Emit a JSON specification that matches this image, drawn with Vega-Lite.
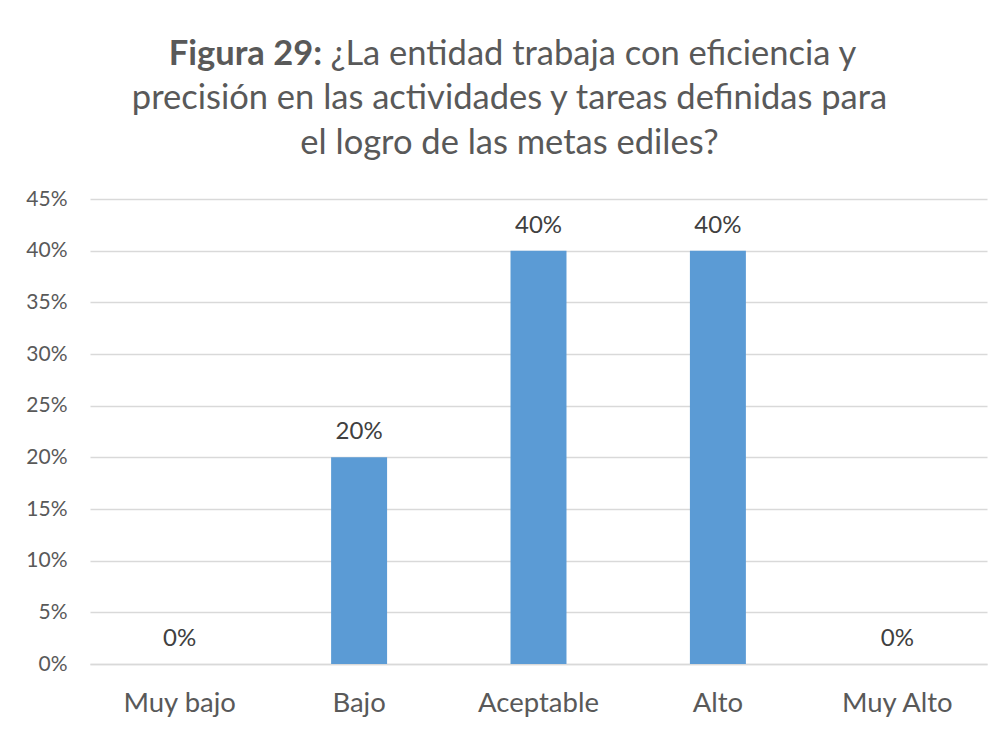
{
  "$schema": "https://vega.github.io/schema/vega-lite/v6.json",
  "width": 897,
  "height": 465,
  "autosize": {"type": "none"},
  "padding": {"left": 90, "top": 199, "right": 20, "bottom": 67},
  "background": "white",
  "config": {"view": {"stroke": null}},
  "title": {
    "text": "Figura 29:\u00a0\u00a0\u00a0\u00a0\u00a0\u00a0\u00a0\u00a0\u00a0\u00a0\u00a0\u00a0\u00a0\u00a0\u00a0\u00a0\u00a0\u00a0\u00a0\u00a0\u00a0\u00a0\u00a0\u00a0\u00a0\u00a0\u00a0\u00a0\u00a0\u00a0\u00a0\u00a0\u00a0\u00a0\u00a0\u00a0\u00a0\u00a0\u00a0\u00a0\u00a0\u00a0\u00a0\u00a0\u00a0\u00a0\u00a0\u00a0\u00a0\u00a0\u00a0\u00a0\u00a0\u00a0\u00a0\u00a0\u00a0\u00a0\u00a0\u00a0\u00a0\u00a0\u00a0\u200b",
    "subtitle": ["\u200b\u00a0\u00a0\u00a0\u00a0\u00a0\u00a0\u00a0\u00a0\u00a0\u00a0\u00a0\u00a0\u00a0\u00a0\u00a0\u00a0\u00a0\u00a0\u00a0¿La entidad trabaja con eficiencia y", "precisión en las actividades y tareas definidas para", "el logro de las metas ediles?"],
    "anchor": "middle",
    "frame": "group",
    "dx": -29,
    "font": "Lato",
    "fontSize": 34.5,
    "fontWeight": "bold",
    "color": "#595959",
    "subtitleFont": "Lato",
    "subtitleFontSize": 34.5,
    "subtitleFontWeight": "normal",
    "subtitleColor": "#595959",
    "subtitleLineHeight": 44.5,
    "subtitlePadding": -34.5,
    "offset": 27
  },
  "data": {
    "values": [
      {"nivel": "Muy bajo", "pct": 0},
      {"nivel": "Bajo", "pct": 0.2},
      {"nivel": "Aceptable", "pct": 0.4},
      {"nivel": "Alto", "pct": 0.4},
      {"nivel": "Muy Alto", "pct": 0}
    ]
  },
  "encoding": {
    "x": {
      "field": "nivel",
      "type": "nominal",
      "sort": null,
      "scale": {"paddingInner": 0.688, "paddingOuter": 0.344},
      "axis": {
        "title": null,
        "labelAngle": 0,
        "labelFont": "Lato",
        "labelFontSize": 27.5,
        "labelColor": "#595959",
        "labelPadding": 25,
        "ticks": false,
        "domain": true,
        "domainColor": "#d9d9d9",
        "domainWidth": 1.3,
        "grid": false
      }
    },
    "y": {
      "field": "pct",
      "type": "quantitative",
      "scale": {"domain": [0, 0.45], "nice": false},
      "axis": {
        "title": null,
        "values": [0, 0.05, 0.1, 0.15, 0.2, 0.25, 0.3, 0.35, 0.4, 0.45],
        "format": ".0%",
        "labelFont": "Lato",
        "labelFontSize": 21,
        "labelColor": "#595959",
        "labelPadding": 23,
        "ticks": false,
        "domain": false,
        "grid": true,
        "gridColor": "#d9d9d9",
        "gridWidth": 1.3
      }
    }
  },
  "layer": [
    {"mark": {"type": "bar", "color": "#5b9bd5"}},
    {
      "mark": {"type": "text", "dy": -18, "baseline": "alphabetic", "font": "Lato", "fontSize": 24, "color": "#404040"},
      "encoding": {"text": {"field": "pct", "type": "quantitative", "format": ".0%"}}
    }
  ]
}
